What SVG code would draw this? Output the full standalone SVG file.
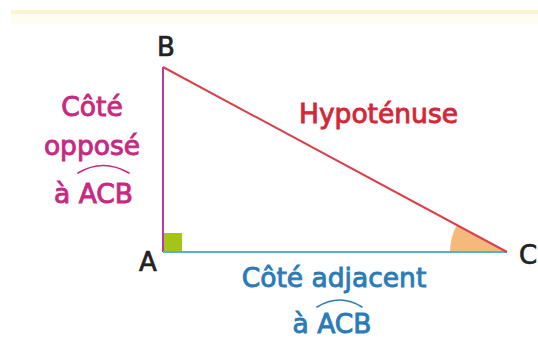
<svg xmlns="http://www.w3.org/2000/svg" width="538" height="341" viewBox="0 0 538 341">
<style>
.lbl{font-family:"DejaVu Sans",sans-serif;font-size:26px;fill:#222;stroke:#222;stroke-width:0.7}
.t{font-family:"DejaVu Sans",sans-serif;font-size:26.5px;text-anchor:middle;stroke-width:0.9}
.mag{fill:#c8287f;stroke:#c8287f}
.red{fill:#d42637;stroke:#d42637}
.blue{fill:#2a7bb6;stroke:#2a7bb6}
.hat{fill:none;stroke-width:1.6;stroke-linecap:round}
</style>
<rect width="538" height="341" fill="#ffffff"/>
<rect x="11" y="10" width="527" height="4" fill="#fcf5d2"/>
<rect x="11" y="14" width="527" height="10" fill="#fffdf2"/>

<g id="angle-C">
  <path d="M507,252 L450,252 A57,57 0 0 1 456.8,225 Z" fill="#f6b97c"/>
</g>
<g id="right-angle-A">
  <rect x="163" y="233" width="19" height="19" fill="#a4c41a"/>
</g>

<g id="connectors">
  <line id="side-AB" x1="163" y1="67" x2="163" y2="252" stroke="#b43c9e" stroke-width="2"/>
  <line id="side-AC" x1="163" y1="252" x2="507" y2="252" stroke="#5ab0cc" stroke-width="2"/>
  <line id="side-BC" x1="163" y1="67" x2="507" y2="252" stroke="#d8404e" stroke-width="2"/>
</g>

<g id="vertex-B"><text class="lbl" x="157" y="56">B</text></g>
<g id="vertex-A"><text class="lbl" x="139" y="271">A</text></g>
<g id="vertex-C"><text class="lbl" x="519" y="264">C</text></g>

<g id="label-oppose">
  <text class="t mag" x="92" y="116">Côté</text>
  <text class="t mag" x="92" y="155">opposé</text>
  <text class="t mag" x="93.5" y="203">à ACB</text>
  <path class="hat" stroke="#c8287f" d="M78,173 Q103,158 129,173"/>
</g>

<g id="label-hypotenuse">
  <text class="t red" x="378.5" y="123">Hypoténuse</text>
</g>

<g id="label-adjacent">
  <text class="t blue" x="334" y="287">Côté adjacent</text>
  <text class="t blue" x="332" y="333">à ACB</text>
  <path class="hat" stroke="#2a7bb6" d="M317,307 Q340,293 362,307"/>
</g>
</svg>
